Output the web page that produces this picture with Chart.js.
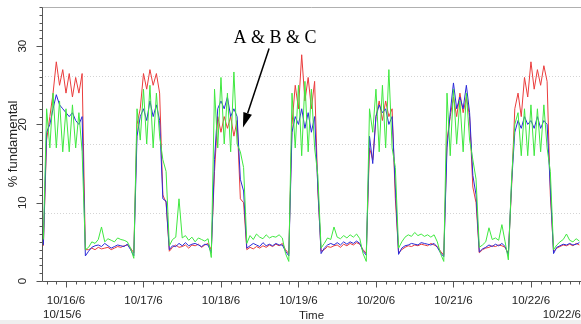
<!DOCTYPE html>
<html lang="en">
<head>
  <meta charset="UTF-8" />
  <title>% fundamental – A &amp; B &amp; C</title>
  <script src="https://cdn.jsdelivr.net/npm/chart.js"></script>
  <style>
    html, body {
      margin: 0;
      padding: 0;
      background: #fff;
    }
    canvas { display: block; }
  </style>
</head>
<body>
  <canvas id="chart" width="581" height="324"></canvas>

  <script>
    // one sample per hour, first one at 17:00 on 10/15 (hours counted from 10/15 00:00)
    const START_HOUR = 17;
    const dayHours = [24, 48, 72, 96, 120, 144, 168];
    const dayLabels = ['10/16/6', '10/17/6', '10/18/6', '10/19/6', '10/20/6', '10/21/6', '10/22/6'];
    const startLabel = '10/15/6';
    const endLabel = '10/22/6';
    const yLabels = [0, 10, 20, 30];
    const gridValues = [8.75, 17.5, 26.25];

    const red = [
      4.5, 18, 21, 24, 28, 25, 27, 24, 26.5, 23.5,
      26, 24, 26.5, 4.0, 4.0, 4.2, 4.0, 4.3, 4.1, 4.2,
      4.3, 4.0, 4.2, 4.4, 4.3, 4.5, 4.6, 4.2, 3.6, 20,
      22, 26.5, 24.5, 27, 25, 26.5, 24, 11, 10, 3.8,
      4.3, 4.6, 4.3, 4.4, 4.6, 4.2, 4.6, 4.5, 4.7, 4.3,
      4.6, 4.8, 4.0, 14, 21, 19, 21, 19.5, 21, 18.5,
      20.5, 10.5, 10, 4.0, 4.3, 4.1, 4.4, 4.2, 4.5, 4.3,
      4.6, 4.4, 4.7, 4.5, 4.8, 4.0, 3.5, 20, 25, 22,
      28.9, 23, 26, 22, 25.5, 11.5, 3.8, 4.0, 4.4, 4.3,
      4.5, 4.6, 4.3, 4.7, 4.5, 4.8, 4.6, 4.9, 4.7, 4.0,
      3.5, 17, 15.5, 21, 23, 20.5, 23, 21, 22, 10.5,
      3.6, 4.0, 4.3, 4.5, 4.4, 4.6, 4.5, 4.7, 4.6, 4.5,
      4.8, 4.6, 4.4, 3.8, 3.3, 18, 21, 23.5, 21, 24,
      21.5, 23.5, 21, 12, 10, 3.6, 4.0, 4.2, 4.3, 4.5,
      4.4, 4.6, 4.5, 4.3, 3.5, 12, 22, 24, 21, 26,
      23.5, 28, 24.5, 27, 25, 27.5, 25.5, 11, 3.8, 4.2,
      4.4, 4.6, 4.5, 4.7, 4.5, 4.8, 4.6
    ];

    const blue = [
      4.6, 19, 20, 22, 23.8, 22.5, 22, 21.5, 21, 21.5,
      20.5, 20, 21, 3.2, 3.8, 4.3, 4.5, 4.6, 4.4, 4.8,
      4.5, 4.2, 4.4, 4.6, 4.5, 4.4, 4.7, 4.0, 3.2, 18.5,
      21, 22, 20.5, 23, 21, 22.5, 20.5, 10.5, 10.2, 4.0,
      4.5, 4.4, 4.8, 4.5, 4.9, 4.5, 4.7, 4.8, 4.6, 4.4,
      4.7, 4.6, 3.6, 15.5, 22, 23, 22, 23.5, 21, 22,
      21, 13, 11.5, 4.2, 4.5, 4.8, 4.6, 4.4, 4.9, 4.5,
      4.7, 4.5, 4.8, 4.6, 4.6, 3.8, 3.2, 19, 21, 20,
      22, 19.5, 21.5, 19, 21, 12, 3.5, 4.2, 4.6, 4.8,
      4.6, 4.9, 4.6, 5.0, 4.7, 5.0, 4.8, 5.1, 4.8, 3.8,
      3.3, 18.5, 15, 21, 22.5, 21.5, 22, 20, 21, 12,
      3.4, 4.2, 4.5, 4.6, 4.8, 4.7, 4.6, 4.9, 4.8, 4.7,
      4.6, 4.8, 4.3, 3.6, 3.1, 17, 21.5, 25.3, 22, 23.5,
      22, 25, 21.5, 13.5, 11, 3.7, 4.1, 4.3, 4.6, 4.4,
      4.7, 4.5, 4.8, 4.4, 3.3, 12.5, 19, 20.5, 19.5, 21,
      20, 20.5, 19.5, 21, 19.5, 20.5, 20, 12, 3.5, 4.3,
      4.5, 4.7, 4.6, 4.8, 4.6, 4.7, 4.9
    ];

    const green = [
      5.3, 22, 17, 24, 17, 23, 16.5, 22, 16.5, 22.5,
      17, 21.5, 16.5, 4.0, 4.3, 5.0, 4.8, 5.3, 6.9, 5.0,
      5.4, 5.2, 5.0, 5.5, 5.3, 5.2, 5.0, 4.2, 2.9, 22,
      18, 24.5, 17.5, 25, 17, 24, 18.5, 15.5, 14, 4.5,
      5.3, 5.6, 10.5, 5.5, 5.8, 5.2, 5.6, 5.0, 5.5, 5.3,
      5.1, 5.4, 3.0, 24.5, 17, 26, 17.5, 24, 16.5, 26.7,
      17.5, 16.5, 14.5, 4.8, 5.8, 5.3, 6.0, 5.6, 5.4, 5.9,
      5.5, 5.7, 5.6, 5.9, 5.5, 3.5, 2.5, 24, 17, 25,
      16, 25.5, 16.5, 24.5, 17, 13.5, 4.2, 4.8, 5.5, 5.3,
      6.9, 5.6, 5.4, 5.8, 5.5, 5.9, 5.6, 6.0, 5.4, 3.5,
      2.5, 22, 19, 24.5, 16.5, 25, 17, 27, 17, 14.5,
      4.2, 5.0, 5.6, 5.9, 5.7, 6.2, 5.8, 6.0, 5.7, 5.9,
      5.6, 5.9, 5.0, 3.5, 2.5, 24, 16, 24.5, 17.5, 23,
      16.5, 24, 18, 15.5, 13, 4.3, 4.6, 5.0, 6.8, 5.3,
      5.5, 5.2, 7.2, 5.0, 2.7, 13, 20, 21.5, 16, 22,
      16, 22.5, 16, 22, 16.5, 22.5, 17, 14, 4.0, 4.6,
      5.0, 5.3, 6.0, 5.2, 5.0, 5.4, 5.1
    ];

    const toPoints = arr => arr.map((v, i) => ({ x: START_HOUR + i, y: v }));

    const FONT = '"Liberation Sans", Arial, sans-serif';
    const INK = '#222';
    const AXIS = '#555';

    const axesPlugin = {
      id: 'axes',
      beforeDraw(chart) {
        const { ctx, width, height } = chart;
        ctx.save();
        ctx.fillStyle = '#efefef';
        ctx.fillRect(0, height - 4, width, 4);
        ctx.restore();
      },
      beforeDatasetsDraw(chart) {
        const { ctx, chartArea: a, scales: { y } } = chart;
        ctx.save();
        ctx.strokeStyle = '#d4d4d4';
        ctx.lineWidth = 1;
        ctx.setLineDash([1, 2]);
        gridValues.forEach(v => {
          const py = Math.round(y.getPixelForValue(v)) + 0.5;
          ctx.beginPath();
          ctx.moveTo(a.left, py);
          ctx.lineTo(a.right, py);
          ctx.stroke();
        });
        ctx.restore();
      },
      afterDraw(chart) {
        const { ctx, chartArea: a, scales: { x, y } } = chart;
        ctx.save();

        // frame: light top line, dark left and bottom axes
        const top = Math.round(y.getPixelForValue(35)) + 0.5;
        const left = Math.round(a.left) + 0.5;
        const bottom = Math.round(y.getPixelForValue(0)) + 0.5;
        ctx.lineWidth = 1;
        ctx.strokeStyle = '#b0b0b0';
        ctx.beginPath();
        ctx.moveTo(left, top);
        ctx.lineTo(a.right, top);
        ctx.stroke();

        ctx.strokeStyle = AXIS;
        ctx.beginPath();
        ctx.moveTo(left, top);
        ctx.lineTo(left, bottom);
        ctx.lineTo(a.right, bottom);
        ctx.stroke();

        // y ticks every unit, long ones at labels
        for (let v = 0; v <= 35; v++) {
          const py = Math.round(y.getPixelForValue(v)) + 0.5;
          const len = v % 10 === 0 ? 6 : 3;
          ctx.beginPath();
          ctx.moveTo(left - len, py);
          ctx.lineTo(left, py);
          ctx.stroke();
        }

        // x ticks every 3 hours, long ones at midnight
        for (let h = 18; h <= x.max; h += 3) {
          const px = Math.round(x.getPixelForValue(h)) + 0.5;
          const len = h % 24 === 0 ? 6 : 3;
          ctx.beginPath();
          ctx.moveTo(px, bottom);
          ctx.lineTo(px, bottom + len);
          ctx.stroke();
        }

        ctx.fillStyle = INK;
        ctx.font = '11.5px ' + FONT;
        ctx.textBaseline = 'middle';

        // y tick labels, rotated
        ctx.textAlign = 'center';
        yLabels.forEach(v => {
          ctx.save();
          ctx.translate(23, y.getPixelForValue(v));
          ctx.rotate(-Math.PI / 2);
          ctx.fillText(String(v), 0, 0);
          ctx.restore();
        });

        // day labels
        dayHours.forEach((h, i) => {
          ctx.fillText(dayLabels[i], x.getPixelForValue(h), bottom + 19);
        });

        // start / end of the range
        ctx.textAlign = 'left';
        ctx.fillText(startLabel, a.left + 1, bottom + 33);
        ctx.textAlign = 'right';
        ctx.fillText(endLabel, a.right, bottom + 33);

        // axis titles
        ctx.textAlign = 'center';
        ctx.fillText('Time', (a.left + a.right) / 2, bottom + 34);

        ctx.font = '13px ' + FONT;
        ctx.save();
        ctx.translate(13, (a.top + a.bottom) / 2);
        ctx.rotate(-Math.PI / 2);
        ctx.fillText('% fundamental', 0, 0);
        ctx.restore();

        // annotation with arrow
        ctx.font = '18px "Liberation Serif", "Times New Roman", serif';
        ctx.textBaseline = 'alphabetic';
        ctx.fillStyle = '#000';
        ctx.fillText('A & B & C', x.getPixelForValue(88.7), y.getPixelForValue(30.35));

        const x0 = x.getPixelForValue(86.9), y0 = y.getPixelForValue(29.7);
        const x1 = x.getPixelForValue(78.8), y1 = y.getPixelForValue(19.6);
        const ang = Math.atan2(y1 - y0, x1 - x0);
        const head = 15, half = 4.5;
        const bx = x1 - head * Math.cos(ang), by = y1 - head * Math.sin(ang);
        ctx.strokeStyle = '#000';
        ctx.lineWidth = 1.5;
        ctx.beginPath();
        ctx.moveTo(x0, y0);
        ctx.lineTo(bx, by);
        ctx.stroke();
        ctx.beginPath();
        ctx.moveTo(x1, y1);
        ctx.lineTo(bx + half * Math.sin(ang), by - half * Math.cos(ang));
        ctx.lineTo(bx - half * Math.sin(ang), by + half * Math.cos(ang));
        ctx.closePath();
        ctx.fill();

        ctx.restore();
      }
    };

    const line = color => ({
      borderColor: color,
      borderWidth: 1,
      pointRadius: 0,
      tension: 0,
      fill: false
    });

    new Chart(document.getElementById('chart').getContext('2d'), {
      type: 'line',
      data: {
        datasets: [
          { label: 'C', data: toPoints(green), ...line('#3fe83f') },
          { label: 'B', data: toPoints(blue), ...line('#2a2ad8') },
          { label: 'A', data: toPoints(red), ...line('#ea3c3c') }
        ]
      },
      options: {
        responsive: false,
        animation: false,
        layout: { padding: { left: 42, right: 0, top: 7, bottom: 43 } },
        plugins: {
          legend: { display: false },
          tooltip: { enabled: false }
        },
        scales: {
          x: { type: 'linear', min: 16.57, max: 183.5, display: false },
          y: { min: 0, max: 35, display: false }
        }
      },
      plugins: [axesPlugin]
    });
  </script>
</body>
</html>
